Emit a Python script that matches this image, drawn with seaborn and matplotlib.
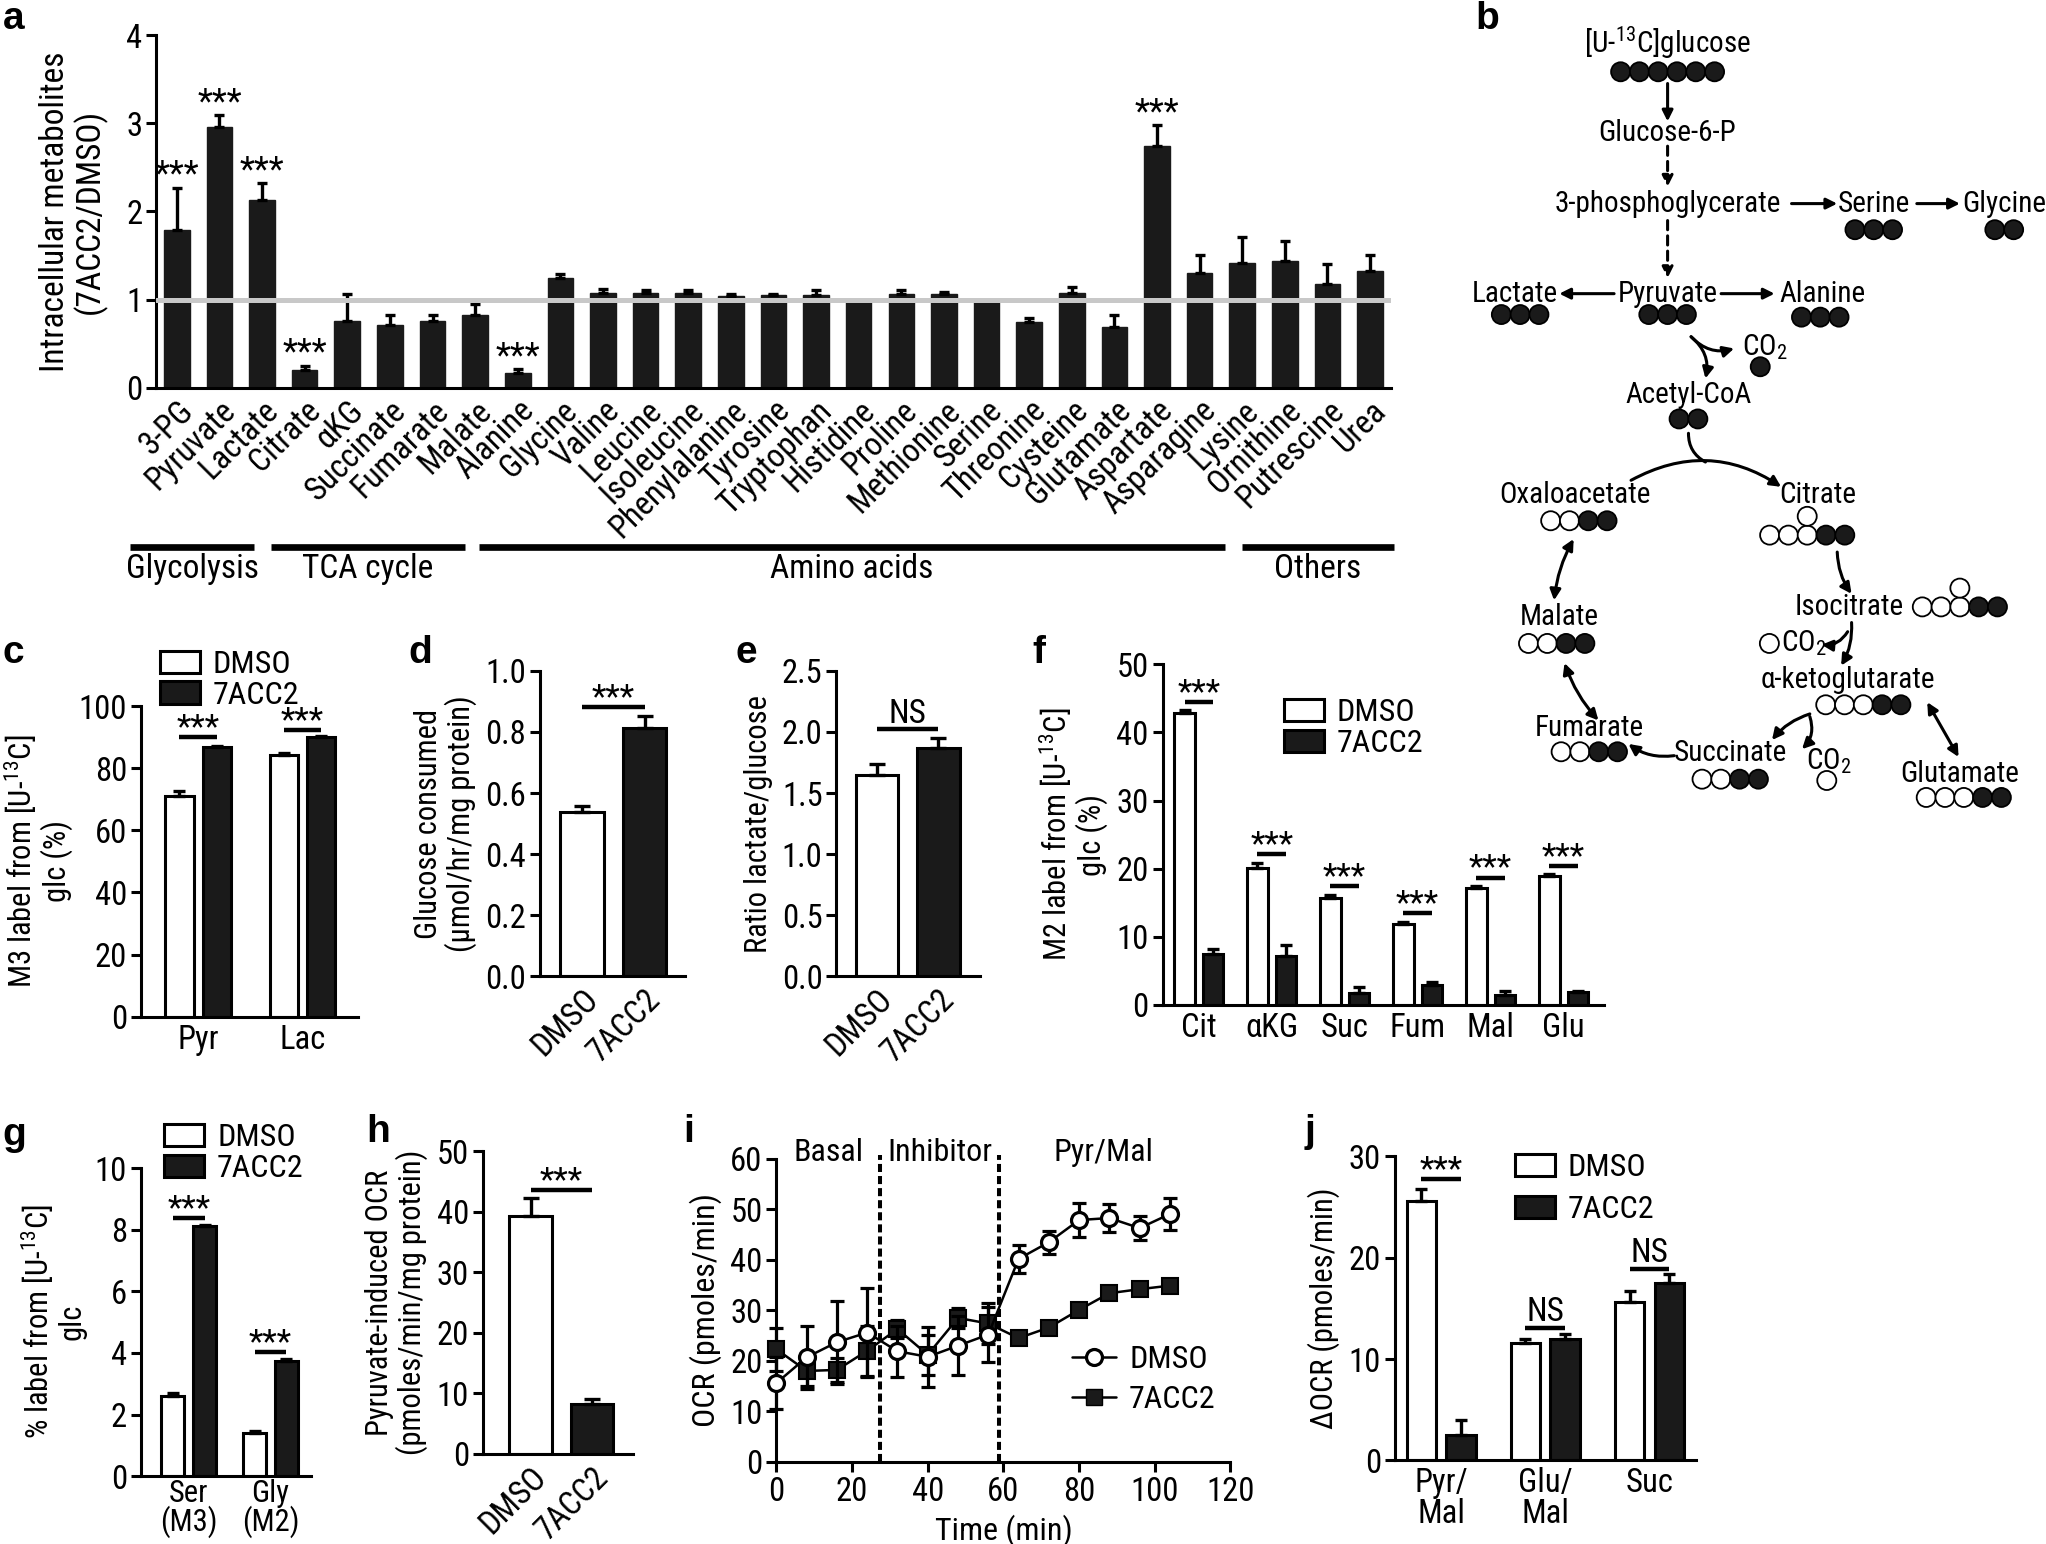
import matplotlib
matplotlib.use("Agg")
import matplotlib.pyplot as plt
from matplotlib.patches import Circle, Patch
from matplotlib.lines import Line2D
import numpy as np
import pandas as pd
import seaborn as sns

# ---------------- data ----------------
metabolites = ["3-PG", "Pyruvate", "Lactate", "Citrate", "αKG", "Succinate", "Fumarate",
               "Malate", "Alanine", "Glycine", "Valine", "Leucine", "Isoleucine",
               "Phenylalanine", "Tyrosine", "Tryptophan", "Histidine", "Proline",
               "Methionine", "Serine", "Threonine", "Cysteine", "Glutamate", "Aspartate",
               "Asparagine", "Lysine", "Ornithine", "Putrescine", "Urea"]
ratio = [1.79, 2.96, 2.13, 0.20, 0.76, 0.71, 0.76, 0.83, 0.17, 1.25, 1.07, 1.07, 1.07,
         1.04, 1.05, 1.05, 0.99, 1.06, 1.06, 0.99, 0.74, 1.07, 0.69, 2.74, 1.30, 1.41,
         1.44, 1.18, 1.32]
ratio_err = [0.48, 0.13, 0.19, 0.05, 0.30, 0.11, 0.07, 0.12, 0.04, 0.04, 0.05, 0.04, 0.04,
             0.02, 0.01, 0.06, 0.00, 0.05, 0.02, 0.00, 0.05, 0.07, 0.14, 0.24, 0.20, 0.30,
             0.23, 0.22, 0.19]
ratio_sig = ["***", "***", "***", "***", "", "", "", "", "***", "", "", "", "", "", "", "",
             "", "", "", "", "", "", "", "***", "", "", "", "", ""]
pathway_groups = ["Glycolysis", "TCA cycle", "Amino acids", "Others"]

treatments = ["DMSO", "7ACC2"]

m3_cats = ["Pyr", "Lac"]
m3_dmso = [71.1, 84.2]
m3_dmso_err = [1.6, 0.7]
m3_acc = [86.7, 89.9]
m3_acc_err = [0.6, 0.4]
m3_sig_y = [89.9, 92.3]
m3_sig = ["***", "***"]

glc_consumed = [0.537, 0.814]
glc_consumed_err = [0.022, 0.039]

lac_glc = [1.645, 1.87]
lac_glc_err = [0.09, 0.08]

m2_cats = ["Cit", "αKG", "Suc", "Fum", "Mal", "Glu"]
m2_dmso = [42.8, 20.1, 15.7, 11.9, 17.2, 18.9]
m2_dmso_err = [0.5, 0.8, 0.5, 0.3, 0.3, 0.3]
m2_acc = [7.5, 7.2, 1.7, 2.9, 1.4, 1.9]
m2_acc_err = [0.7, 1.6, 0.9, 0.4, 0.65, 0.2]
m2_sig_y = [44.4, 22.1, 17.5, 13.5, 18.7, 20.4]
m2_sig = ["***"] * 6

sg_cats = ["Ser\n(M3)", "Gly\n(M2)"]
sg_dmso = [2.61, 1.40]
sg_dmso_err = [0.08, 0.05]
sg_acc = [8.11, 3.73]
sg_acc_err = [0.04, 0.07]
sg_sig_y = [8.37, 4.02]
sg_sig = ["***", "***"]

pyr_ocr = [39.3, 8.3]
pyr_ocr_err = [2.9, 0.8]

ocr_time = [0, 8, 16, 24, 32, 40, 48, 56, 64, 72, 80, 88, 96, 104]
ocr_dmso = [15.6, 20.7, 23.7, 25.6, 21.9, 20.8, 23.0, 25.2, 40.2, 43.5, 47.9, 48.3, 46.3, 49.1]
ocr_dmso_sem = [5.2, 6.3, 8.2, 8.8, 5.1, 6.0, 5.8, 5.5, 2.7, 2.3, 3.3, 2.8, 2.4, 3.1]
ocr_acc = [22.3, 18.0, 18.2, 22.0, 26.3, 21.2, 28.5, 27.4, 24.5, 26.6, 30.1, 33.4, 34.2, 34.9]
ocr_acc_sem = [4.3, 3.0, 2.4, 5.0, 1.7, 4.0, 2.0, 4.0, 0.5, 0.5, 0.5, 0.5, 0.5, 0.5]
phase_names = ["Basal", "Inhibitor", "Pyr/Mal"]
phase_edges = [27.4, 58.8]

docr_cats = ["Pyr/\nMal", "Glu/\nMal", "Suc"]
docr_dmso = [25.55, 11.6, 15.6]
docr_dmso_err = [1.25, 0.4, 1.1]
docr_acc = [2.47, 12.0, 17.5]
docr_acc_err = [1.5, 0.5, 0.9]
docr_sig_y = [27.8, 13.1, 18.9]
docr_sig = ["***", "NS", "NS"]

# ---------------- style ----------------
sns.set_theme(style="ticks")
plt.rcParams["font.family"] = ["Roboto Condensed", "Liberation Sans", "DejaVu Sans"]
plt.rcParams.update({
    "mathtext.fontset": "custom", "mathtext.rm": "Roboto Condensed",
    "mathtext.it": "Roboto Condensed:italic", "mathtext.bf": "Roboto Condensed:bold",
    "axes.facecolor": "none", "axes.linewidth": 2.2, "axes.edgecolor": "black",
    "xtick.color": "black", "ytick.color": "black", "text.color": "black",
    "axes.labelcolor": "black", "xtick.major.width": 2.2, "ytick.major.width": 2.2,
    "xtick.major.size": 7, "ytick.major.size": 7,
    "xtick.labelsize": 23.5, "ytick.labelsize": 23.5, "axes.labelsize": 22,
})
BLACK = "#1a1a1a"
W, H = 1568, 1183          # layout grid of the reference

fig = plt.figure(figsize=(20.46, 15.44), dpi=100)


def rect(x0, ytop, x1, ybot):
    return [x0 / W, 1 - ybot / H, (x1 - x0) / W, (ybot - ytop) / H]


ov = fig.add_axes([0, 0, 1, 1])
ov.set_xlim(0, W)
ov.set_ylim(H, 0)
ov.axis("off")


def style(ax, ymax, step, ylabel, xlim, pad=6):
    ax.set_ylim(0, ymax)
    ax.set_yticks(np.arange(0, ymax + step / 2, step))
    ax.set_xlim(*xlim)
    sns.despine(ax=ax)
    ax.tick_params(axis="x", length=0, pad=5)
    ax.tick_params(axis="y", pad=3)
    ax.set_xlabel("")
    ax.set_ylabel(ylabel, linespacing=1.05, labelpad=pad)


def upper_err(ax, xs, tops, errs, cap=4):
    ax.errorbar(xs, tops, yerr=[np.zeros(len(errs)), errs], fmt="none", ecolor="black",
                elinewidth=2.4, capsize=cap, capthick=2.4, clip_on=False, zorder=3)


def sig(ax, x0, x1, y, label):
    ax.plot([x0, x1], [y, y], color="black", lw=3.2, solid_capstyle="butt", clip_on=False)
    off = 5 if label == "NS" else 0
    ax.annotate(label, xy=((x0 + x1) / 2, y), xytext=(0, off), textcoords="offset points",
                ha="center", va="baseline", fontsize=24, annotation_clip=False)


def bar_legend(ax, x, y, spacing):
    hs = [Patch(facecolor="white", edgecolor="black", lw=2.2, label="DMSO"),
          Patch(facecolor=BLACK, edgecolor="black", lw=2.2, label="7ACC2")]
    ax.legend(handles=hs, loc="upper left", bbox_to_anchor=(x, y), frameon=False,
              borderpad=0, borderaxespad=0, labelspacing=spacing, handlelength=1.25,
              handleheight=0.7, handletextpad=0.4, fontsize=23)


def grouped(r, cats, dmso, dmso_err, acc, acc_err, ymax, step, width, gap, xlim,
            sig_y, sig_lab, ylabel, pad=6):
    ax = fig.add_axes(r)
    df = pd.DataFrame({"cat": list(cats) * 2,
                       "group": ["DMSO"] * len(cats) + ["7ACC2"] * len(cats),
                       "val": list(dmso) + list(acc)})
    sns.barplot(data=df, x="cat", y="val", hue="group", hue_order=treatments, order=cats,
                palette=["white", BLACK], saturation=1, width=width, gap=gap,
                edgecolor="black", linewidth=2.2, errorbar=None, legend=False, ax=ax)
    centers = []
    for cont, errs in zip(ax.containers, [dmso_err, acc_err]):
        xs = [b.get_x() + b.get_width() / 2 for b in cont]
        upper_err(ax, xs, [b.get_height() for b in cont], errs)
        centers.append(xs)
    for x0, x1, y, lab in zip(centers[0], centers[1], sig_y, sig_lab):
        sig(ax, x0, x1, y, lab)
    style(ax, ymax, step, ylabel, xlim, pad)
    return ax


def single(r, vals, errs, ymax, step, width, xlim, sig_y, sig_lab, ylabel):
    ax = fig.add_axes(r)
    sns.barplot(x=treatments, y=vals, hue=treatments, palette=["white", BLACK],
                saturation=1, width=width, edgecolor="black", linewidth=2.2,
                errorbar=None, legend=False, ax=ax)
    bars = sorted(ax.patches, key=lambda b: b.get_x())
    xs = [b.get_x() + b.get_width() / 2 for b in bars]
    upper_err(ax, xs, [b.get_height() for b in bars], errs, cap=6)
    sig(ax, xs[0], xs[1], sig_y, sig_lab)
    style(ax, ymax, step, ylabel, xlim)
    ax.set_xticks([0, 1])
    ax.set_xticklabels(treatments, rotation=45, ha="right", rotation_mode="anchor")
    return ax


# ---------------- panel a ----------------
ax = fig.add_axes(rect(119.6, 27, 1066, 297))
sns.barplot(x=metabolites, y=ratio, color=BLACK, saturation=1, width=0.6,
            edgecolor=BLACK, errorbar=None, ax=ax)
bars = ax.patches
xs = [b.get_x() + b.get_width() / 2 for b in bars]
tops = [b.get_height() for b in bars]
upper_err(ax, xs, tops, ratio_err, cap=3.5)
ax.axhline(1, color="#c8c8c8", lw=3.6, zorder=4)
for x, t, e, s in zip(xs, tops, ratio_err, ratio_sig):
    if s:
        ax.annotate(s, xy=(x, t + e), xytext=(0, 2), textcoords="offset points",
                    ha="center", va="baseline", fontsize=25, annotation_clip=False)
style(ax, 4, 1, "Intracellular metabolites\n(7ACC2/DMSO)", (-0.487, 28.49), pad=14)
ax.yaxis.label.set_size(24)
ax.set_xticks(range(len(metabolites)))
ax.set_xticklabels(metabolites, rotation=45, ha="right", rotation_mode="anchor")

group_spans = [(100, 195), (208, 356), (367, 939), (952, 1068)]
for name, (x0, x1) in zip(pathway_groups, group_spans):
    ov.plot([x0, x1], [419, 419], color="black", lw=4.8, solid_capstyle="butt")
    ov.text((x0 + x1) / 2, 436, name, ha="center", va="center", fontsize=24)

# ---------------- panels c-h, j ----------------
ax_c = grouped(rect(108, 541, 274, 779), m3_cats, m3_dmso, m3_dmso_err, m3_acc, m3_acc_err,
               100, 20, 0.72, 0.25, (-0.55, 1.53), m3_sig_y, m3_sig,
               "M3 label from [U-$^{13}$C]\nglc (%)", pad=4)
bar_legend(ax_c, 0.087, 1.18, 0.05)

single(rect(414, 514, 525, 748), glc_consumed, glc_consumed_err, 1.0, 0.2, 0.7,
       (-0.675, 1.65), 0.882, "***", "Glucose consumed\n(μmol/hr/mg protein)")
single(rect(641, 514, 751, 748), lac_glc, lac_glc_err, 2.5, 0.5, 0.68,
       (-0.65, 1.67), 2.02, "NS", "Ratio lactate/glucose")

ax_f = grouped(rect(891, 509, 1229, 770), m2_cats, m2_dmso, m2_dmso_err, m2_acc, m2_acc_err,
               50, 10, 0.78, 0.28, (-0.495, 5.55), m2_sig_y, m2_sig,
               "M2 label from [U-$^{13}$C]\nglc (%)")
bar_legend(ax_f, 0.275, 0.9, 0.05)

ax_g = grouped(rect(108, 895, 238, 1131), sg_cats, sg_dmso, sg_dmso_err, sg_acc, sg_acc_err,
               10, 2, 0.78, 0.28, (-0.587, 1.49), sg_sig_y, sg_sig,
               "% label from [U-$^{13}$C]\nglc")
ax_g.tick_params(axis="x", pad=2, labelsize=22)
for lab in ax_g.get_xticklabels():
    lab.set_linespacing(0.92)
bar_legend(ax_g, 0.138, 1.145, 0.05)

single(rect(370, 882, 485, 1114), pyr_ocr, pyr_ocr_err, 50, 10, 0.69,
       (-0.78, 1.67), 43.6, "***", "Pyruvate-induced OCR\n(pmoles/min/mg protein)")

ax_j = grouped(rect(1069, 886, 1300, 1119), docr_cats, docr_dmso, docr_dmso_err, docr_acc,
               docr_acc_err, 30, 10, 0.76, 0.26, (-0.444, 2.45), docr_sig_y, docr_sig,
               "ΔOCR (pmoles/min)")
for lab in ax_j.get_xticklabels():
    lab.set_linespacing(0.95)
bar_legend(ax_j, 0.398, 1.01, 0.4)

# ---------------- panel i ----------------
ax = fig.add_axes(rect(595, 888, 943, 1120))
ax.errorbar(ocr_time, ocr_acc, yerr=ocr_acc_sem, fmt="none", ecolor="black",
            elinewidth=2.3, capsize=4.7, capthick=2.3, clip_on=False, zorder=2)
sns.lineplot(x=ocr_time, y=ocr_acc, color="black", lw=1.8, marker="s", markersize=11.5,
             markerfacecolor=BLACK, markeredgecolor="black", markeredgewidth=1.5,
             clip_on=False, zorder=3, ax=ax)
ax.errorbar(ocr_time, ocr_dmso, yerr=ocr_dmso_sem, fmt="none", ecolor="black",
            elinewidth=2.3, capsize=4.7, capthick=2.3, clip_on=False, zorder=4)
sns.lineplot(x=ocr_time, y=ocr_dmso, color="black", lw=1.8, marker="o", markersize=11.5,
             markerfacecolor="white", markeredgecolor="black", markeredgewidth=2.3,
             clip_on=False, zorder=5, ax=ax)
for xe in phase_edges:
    ax.plot([xe, xe], [0, 60.8], color="black", lw=2.9, ls=(0, (2, 1)), clip_on=False,
            zorder=1)
bounds = [0] + phase_edges + [114]
for name, lo, hi in zip(phase_names, bounds[:-1], bounds[1:]):
    ax.text((lo + hi) / 2, 61.3, name, ha="center", va="center", fontsize=23)
ax.set_xlim(0, 120)
ax.set_ylim(0, 60)
ax.set_xticks(range(0, 121, 20))
ax.set_yticks(range(0, 61, 10))
sns.despine(ax=ax)
ax.tick_params(axis="y", pad=3)
ax.set_xlabel("Time (min)", labelpad=4, fontsize=23)
ax.set_ylabel("OCR (pmoles/min)", labelpad=6, fontsize=23)
hs = [Line2D([], [], color="black", lw=1.8, marker="o", markersize=11.5,
             markerfacecolor="white", markeredgewidth=2.3, label="DMSO"),
      Line2D([], [], color="black", lw=1.8, marker="s", markersize=11.5,
             markerfacecolor=BLACK, label="7ACC2")]
ax.legend(handles=hs, loc="upper left", bbox_to_anchor=(0.65, 0.385), frameon=False,
          borderpad=0, borderaxespad=0, labelspacing=0.35, handlelength=1.4,
          handletextpad=0.4, fontsize=23)

# ---------------- panel b (scheme) ----------------
FS = 21


def carbons(cx, cy, pattern, top=None):
    s, r = 14.4, 7.3
    x0 = cx - s * (len(pattern) - 1) / 2
    for k, ch in enumerate(pattern):
        ov.add_patch(Circle((x0 + k * s, cy), r, facecolor=BLACK if ch == "x" else "white",
                            edgecolor="black", lw=1.3, zorder=5))
    if top is not None:
        ov.add_patch(Circle((x0 + top * s, cy - s), r, facecolor="white",
                            edgecolor="black", lw=1.3, zorder=5))


def arrow(p0, p1, style="-|>", ls="-", rad=0.0):
    ov.annotate("", xy=p1, xytext=p0,
                arrowprops=dict(arrowstyle=style, color="black", lw=2.2, linestyle=ls,
                                mutation_scale=16, shrinkA=0, shrinkB=0,
                                connectionstyle=f"arc3,rad={rad}"))


labels_b = [(1278, 33, "[U-$^{13}$C]glucose"), (1278, 102, "Glucose-6-P"),
            (1278, 156, "3-phosphoglycerate"), (1436, 156, "Serine"),
            (1536, 156, "Glycine"), (1161, 225, "Lactate"), (1278, 225, "Pyruvate"),
            (1397, 225, "Alanine"), (1294, 303, "Acetyl-CoA"),
            (1207, 379, "Oxaloacetate"), (1393, 379, "Citrate"), (1195, 473, "Malate"),
            (1417, 465, "Isocitrate"), (1416, 521, "α-ketoglutarate"),
            (1218, 558, "Fumarate"), (1326, 577, "Succinate"), (1502, 593, "Glutamate")]
for x, y, s in labels_b:
    ov.text(x, y, s, ha="center", va="center", fontsize=FS)
for x, y in [(1335, 266), (1365, 493), (1384, 583)]:
    ov.text(x, y, "CO$_2$", ha="left", va="center", fontsize=FS)

carbons(1278, 55, "xxxxxx")
carbons(1436, 176, "xxx")
carbons(1536, 176, "xx")
carbons(1165, 241, "xxx")
carbons(1278, 241, "xxx")
carbons(1395, 243, "xxx")
carbons(1349, 281, "x")
carbons(1294, 321, "xx")
carbons(1210, 399, "ooxx")
carbons(1385, 410, "oooxx", top=2)
carbons(1502, 465, "oooxx", top=2)
carbons(1356, 493, "o")
carbons(1428, 540, "oooxx")
carbons(1505, 611, "oooxx")
carbons(1193, 493, "ooxx")
carbons(1218, 576, "ooxx")
carbons(1326, 597, "ooxx")
carbons(1400, 598, "o")

arrow((1278, 64), (1278, 93))
arrow((1278, 112), (1278, 143), ls=(0, (3, 2)))
arrow((1373, 156), (1408, 156))
arrow((1469, 156), (1502, 156))
arrow((1278, 169), (1278, 213), ls=(0, (3, 2)))
arrow((1237, 225), (1195, 225))
arrow((1319, 225), (1360, 225))
arrow((1296, 258), (1329, 267), rad=0.3)
arrow((1296, 258), (1307, 290), rad=-0.3)
arrow((1294, 332), (1307, 354), style="-", rad=0.3)
arrow((1250, 368), (1365, 373), rad=-0.3)
arrow((1408, 423), (1419, 455), rad=0.15)
arrow((1419, 477), (1411, 510), rad=-0.15)
arrow((1416, 484), (1396, 494), rad=-0.3)
arrow((1387, 547), (1358, 567), rad=0.15)
arrow((1387, 549), (1381, 574), rad=-0.3)
arrow((1283, 579), (1248, 570), rad=-0.2)
arrow((1206, 413), (1191, 460), style="<|-|>", rad=0.1)
arrow((1199, 508), (1225, 552), style="<|-|>", rad=0.1)
arrow((1477, 538), (1501, 580), style="<|-|>")

# ---------------- panel letters ----------------
for x, y, s in [(2, 22, "a"), (1131, 22, "b"), (2, 508, "c"), (313, 508, "d"),
                (564, 508, "e"), (791, 508, "f"), (2, 877, "g"), (281, 875, "h"),
                (524, 875, "i"), (1000, 875, "j")]:
    ov.text(x, y, s, ha="left", va="baseline", fontsize=28, fontweight="bold",
            family=["Liberation Sans", "DejaVu Sans"])

fig.savefig("out.png", dpi=100)
